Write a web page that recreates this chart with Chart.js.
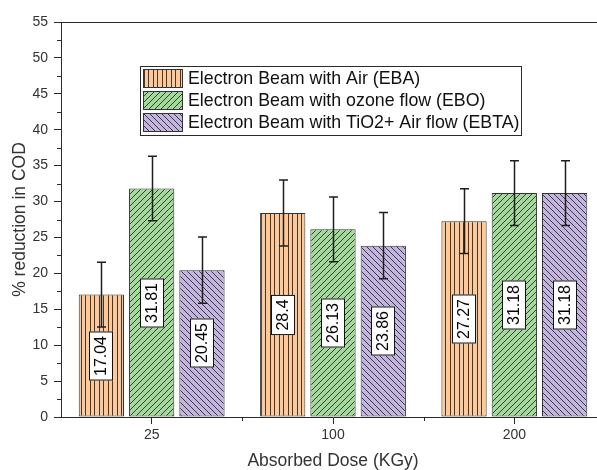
<!DOCTYPE html>
<html>
<head>
<meta charset="utf-8">
<script src="https://cdn.jsdelivr.net/npm/chart.js@4/dist/chart.umd.min.js"></script>
<style>
  html, body { margin: 0; padding: 0; background: #fff; overflow: hidden; }
  canvas { display: block; }
</style>
</head>
<body>
<canvas id="c" width="610" height="470" style="width:610px;height:470px"></canvas>
<script>
// ---- data ----
const categories = ['25', '100', '200'];
const seriesLabels = [
  'Electron Beam with Air (EBA)',
  'Electron Beam with ozone flow (EBO)',
  'Electron Beam with TiO2+ Air flow (EBTA)'
];
const ebaValues  = [17.04, 28.4, 27.27];
const eboValues  = [31.81, 26.13, 31.18];
const ebtaValues = [20.45, 23.86, 31.18];
const ebaErrors  = [4.5, 4.6, 4.5];
const eboErrors  = [4.5, 4.5, 4.5];
const ebtaErrors = [4.6, 4.6, 4.5];
const yMin = 0, yMax = 55, yStep = 5;
const xTitle = 'Absorbed Dose (KGy)';
const yTitle = '% reduction in COD';

const FONT = '"Liberation Sans", Arial, sans-serif';
const INK = '#2a2a2a';

function makePattern(bg, kind) {
  const c = document.createElement('canvas');
  const s = kind === 'v' ? 9 : 6;
  c.width = s; c.height = s;
  const x = c.getContext('2d');
  x.fillStyle = bg; x.fillRect(0, 0, s, s);
  x.strokeStyle = '#3a3a3a'; x.lineWidth = 1;
  x.beginPath();
  if (kind === 'v') {
    x.moveTo(0.5, 0); x.lineTo(0.5, s);
    x.moveTo(4.5, 0); x.lineTo(4.5, s);
  } else if (kind === '/') {
    x.moveTo(0, s); x.lineTo(s, 0);
    x.moveTo(-1, 1); x.lineTo(1, -1);
    x.moveTo(s - 1, s + 1); x.lineTo(s + 1, s - 1);
  } else {
    x.moveTo(0, 0); x.lineTo(s, s);
    x.moveTo(-1, s - 1); x.lineTo(1, s + 1);
    x.moveTo(s - 1, -1); x.lineTo(s + 1, 1);
  }
  x.stroke();
  return x.createPattern(c, 'repeat');
}

const fills = [
  makePattern('#FFC896', 'v'),
  makePattern('#A2DA99', '/'),
  makePattern('#C4B5E0', '\\')
];
const errorSets = [ebaErrors, eboErrors, ebtaErrors];

const extrasPlugin = {
  id: 'extras',
  afterDatasetsDraw(chart) {
    const ctx = chart.ctx;
    const ys = chart.scales.y, xs = chart.scales.x;
    const area = chart.chartArea;
    ctx.save();
    // top frame line
    ctx.strokeStyle = INK; ctx.lineWidth = 1;
    ctx.beginPath();
    ctx.moveTo(area.left, Math.round(area.top) + 0.5);
    ctx.lineTo(area.right + 20, Math.round(area.top) + 0.5);
    ctx.stroke();
    // minor y ticks
    ctx.beginPath();
    for (let v = yMin + yStep / 2; v < yMax; v += yStep) {
      const py = Math.round(ys.getPixelForValue(v)) + 0.5;
      ctx.moveTo(area.left - 4, py); ctx.lineTo(area.left, py);
    }
    // minor x ticks at category boundaries
    for (let i = 0; i < categories.length - 1; i++) {
      const px = Math.round((xs.getPixelForValue(i) + xs.getPixelForValue(i + 1)) / 2) + 0.5;
      ctx.moveTo(px, area.bottom); ctx.lineTo(px, area.bottom + 4);
    }
    ctx.stroke();
    // error bars
    ctx.strokeStyle = '#1e1e1e'; ctx.lineWidth = 1.5;
    chart.data.datasets.forEach((ds, di) => {
      const meta = chart.getDatasetMeta(di);
      meta.data.forEach((bar, i) => {
        const v = ds.data[i], e = errorSets[di][i];
        const x = Math.round(bar.x) + 0.5;
        const yt = ys.getPixelForValue(v + e), yb = ys.getPixelForValue(v - e);
        ctx.beginPath();
        ctx.moveTo(x, yt); ctx.lineTo(x, yb);
        ctx.moveTo(x - 4.5, yt); ctx.lineTo(x + 4.5, yt);
        ctx.moveTo(x - 4.5, yb); ctx.lineTo(x + 4.5, yb);
        ctx.stroke();
      });
    });
    // value labels
    ctx.font = '16px ' + FONT;
    ctx.textAlign = 'center'; ctx.textBaseline = 'middle';
    chart.data.datasets.forEach((ds, di) => {
      const meta = chart.getDatasetMeta(di);
      meta.data.forEach((bar, i) => {
        const txt = String(ds.data[i]);
        const cx = bar.x, cy = (bar.y + bar.base) / 2;
        const tw = ctx.measureText(txt).width;
        const w = tw + 9, h = 24;
        ctx.save();
        ctx.translate(Math.round(cx), Math.round(cy));
        ctx.rotate(-Math.PI / 2);
        ctx.fillStyle = '#fff';
        ctx.fillRect(-w / 2, -h / 2, w, h);
        ctx.strokeStyle = '#111'; ctx.lineWidth = 1;
        ctx.strokeRect(-w / 2 + 0.5, -h / 2 + 0.5, w - 1, h - 1);
        ctx.fillStyle = '#000';
        ctx.fillText(txt, 0, 1);
        ctx.restore();
      });
    });
    // legend
    const lx = 140, ly = 66, lw = 381, lh = 69;
    ctx.fillStyle = '#fff';
    ctx.fillRect(lx, ly, lw, lh);
    ctx.strokeStyle = INK; ctx.lineWidth = 1;
    ctx.strokeRect(lx + 0.5, ly + 0.5, lw, lh);
    ctx.font = '17.8px ' + FONT;
    ctx.textAlign = 'left'; ctx.textBaseline = 'middle';
    const rowTops = [69, 91, 113];
    chart.data.datasets.forEach((ds, di) => {
      const t = rowTops[di];
      ctx.fillStyle = ds.backgroundColor;
      ctx.fillRect(143, t, 40, 19);
      ctx.strokeStyle = '#333';
      ctx.strokeRect(143.5, t + 0.5, 39, 18);
      ctx.fillStyle = '#111';
      ctx.fillText(ds.label, 188, t + 10.5);
    });
    ctx.restore();
  }
};

new Chart(document.getElementById('c'), {
  type: 'bar',
  data: {
    labels: categories,
    datasets: [
      { label: seriesLabels[0], data: ebaValues,  backgroundColor: fills[0] },
      { label: seriesLabels[1], data: eboValues,  backgroundColor: fills[1] },
      { label: seriesLabels[2], data: ebtaValues, backgroundColor: fills[2] }
    ]
  },
  options: {
    responsive: false,
    devicePixelRatio: 1,
    animation: false,
    layout: { padding: { left: 0, right: 5, top: 22, bottom: 0 } },
    datasets: {
      bar: {
        categoryPercentage: 0.832,
        barPercentage: 0.9,
        borderWidth: 1,
        borderColor: '#333',
        borderSkipped: false
      }
    },
    plugins: {
      legend: { display: false },
      tooltip: { enabled: false }
    },
    scales: {
      x: {
        afterFit(s) { s.height = 53; },
        grid: { offset: false, drawOnChartArea: false, drawTicks: true, tickLength: 7, color: INK, lineWidth: 1 },
        border: { display: true, color: INK, width: 1 },
        ticks: { color: '#333', font: { family: FONT, size: 14 }, padding: 3, maxRotation: 0 },
        title: { display: true, text: xTitle, color: '#333', font: { family: FONT, size: 17.5, lineHeight: 1 }, padding: { top: 0, bottom: 0 } }
      },
      y: {
        min: yMin, max: yMax,
        afterFit(s) { s.width = 61; },
        grid: { drawOnChartArea: false, drawTicks: true, tickLength: 7, color: INK, lineWidth: 1 },
        border: { display: true, color: INK, width: 1 },
        ticks: { stepSize: yStep, color: '#333', font: { family: FONT, size: 14 }, padding: 6 },
        title: { display: true, text: yTitle, color: '#333', font: { family: FONT, size: 17.5, lineHeight: 1 }, padding: { top: 11.5, bottom: 0 } }
      }
    }
  },
  plugins: [extrasPlugin]
});
</script>
</body>
</html>
